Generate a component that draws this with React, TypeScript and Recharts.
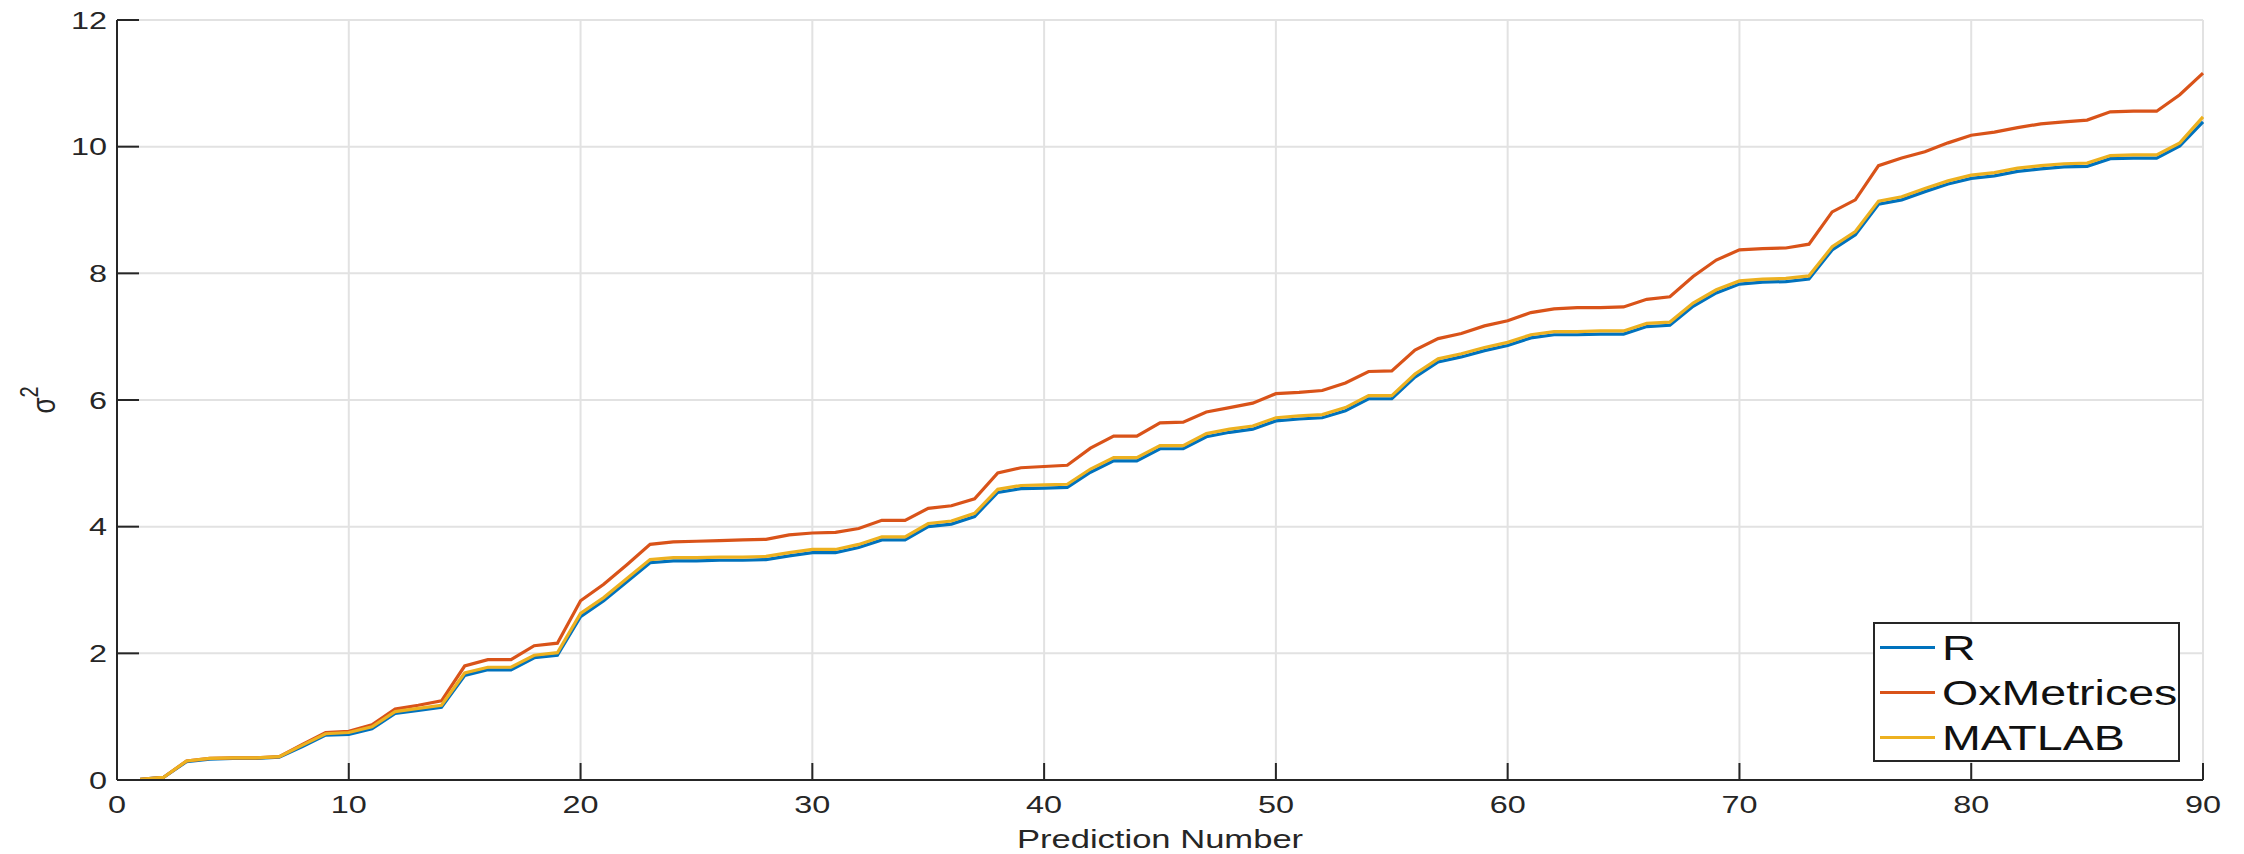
import React from 'react';
import { LineChart, Line, XAxis, YAxis, CartesianGrid, Legend } from 'recharts';

const predictionNumbers: number[] = Array.from({ length: 90 }, (_, i) => i + 1);

const rValues: number[] = [
  0.01, 0.04, 0.29, 0.33, 0.34, 0.34, 0.36, 0.53, 0.71, 0.72,
  0.81, 1.05, 1.10, 1.15, 1.65, 1.74, 1.74, 1.93, 1.97, 2.58,
  2.83, 3.13, 3.43, 3.46, 3.46, 3.47, 3.47, 3.48, 3.54, 3.59,
  3.59, 3.67, 3.79, 3.79, 4.00, 4.04, 4.16, 4.54, 4.60, 4.61,
  4.62, 4.86, 5.04, 5.04, 5.23, 5.23, 5.42, 5.49, 5.54, 5.67,
  5.70, 5.72, 5.83, 6.02, 6.02, 6.36, 6.60, 6.68, 6.78, 6.86,
  6.98, 7.03, 7.03, 7.04, 7.04, 7.16, 7.18, 7.48, 7.69, 7.83,
  7.86, 7.87, 7.91, 8.37, 8.61, 9.09, 9.16, 9.29, 9.41, 9.50,
  9.54, 9.61, 9.65, 9.68, 9.69, 9.81, 9.82, 9.82, 10.01, 10.39,
];

const oxValues: number[] = [
  0.01, 0.04, 0.30, 0.34, 0.35, 0.35, 0.37, 0.56, 0.75, 0.77,
  0.87, 1.12, 1.18, 1.25, 1.80, 1.90, 1.90, 2.12, 2.16, 2.83,
  3.09, 3.40, 3.72, 3.76, 3.77, 3.78, 3.79, 3.80, 3.87, 3.90,
  3.91, 3.97, 4.10, 4.10, 4.29, 4.33, 4.44, 4.85, 4.93, 4.95,
  4.97, 5.24, 5.43, 5.43, 5.64, 5.65, 5.81, 5.88, 5.95, 6.10,
  6.12, 6.15, 6.27, 6.45, 6.46, 6.79, 6.97, 7.05, 7.17, 7.25,
  7.38, 7.44, 7.46, 7.46, 7.47, 7.59, 7.63, 7.95, 8.21, 8.37,
  8.39, 8.40, 8.46, 8.97, 9.16, 9.70, 9.82, 9.92, 10.06, 10.18,
  10.23, 10.30, 10.36, 10.39, 10.42, 10.55, 10.56, 10.56, 10.82, 11.16,
];

const matlabValues: number[] = [
  0.01, 0.04, 0.30, 0.34, 0.35, 0.35, 0.37, 0.55, 0.73, 0.75,
  0.84, 1.08, 1.13, 1.18, 1.69, 1.78, 1.78, 1.97, 2.01, 2.63,
  2.88, 3.18, 3.48, 3.51, 3.51, 3.52, 3.52, 3.53, 3.59, 3.64,
  3.64, 3.72, 3.84, 3.84, 4.05, 4.09, 4.21, 4.59, 4.65, 4.66,
  4.67, 4.91, 5.09, 5.09, 5.28, 5.28, 5.47, 5.54, 5.59, 5.72,
  5.75, 5.77, 5.88, 6.07, 6.07, 6.41, 6.65, 6.73, 6.83, 6.91,
  7.03, 7.08, 7.08, 7.09, 7.09, 7.21, 7.23, 7.53, 7.74, 7.88,
  7.91, 7.92, 7.96, 8.42, 8.66, 9.14, 9.21, 9.34, 9.46, 9.55,
  9.59, 9.66, 9.70, 9.73, 9.74, 9.86, 9.87, 9.87, 10.06, 10.47,
];

const seriesOrder: string[] = ['R', 'OxMetrices', 'MATLAB'];
const xTicks: number[] = [0, 10, 20, 30, 40, 50, 60, 70, 80, 90];
const yTicks: number[] = [0, 2, 4, 6, 8, 10, 12];

const data = predictionNumbers.map((n, i) => ({
  n,
  R: rValues[i],
  OxMetrices: oxValues[i],
  MATLAB: matlabValues[i],
}));

const FONT = '"Liberation Sans", Arial, Helvetica, sans-serif';
const AXIS = '#262626';
const SX = 1.35;

const BottomTick = (props: any) => {
  const { x, y, payload } = props;
  return (
    <g>
      <line x1={x} x2={x} y1={y} y2={y - 17} stroke={AXIS} strokeWidth={2} />
      <text
        transform={`translate(${x},${y + 33}) scale(${SX},1)`}
        textAnchor="middle"
        fontSize={24}
        fontFamily={FONT}
        fill={AXIS}
      >
        {payload.value}
      </text>
    </g>
  );
};

const LeftTick = (props: any) => {
  const { x, y, payload } = props;
  return (
    <g>
      <line x1={x} x2={x + 22} y1={y} y2={y} stroke={AXIS} strokeWidth={2} />
      <text
        transform={`translate(${x - 10},${y + 8.5}) scale(${SX},1)`}
        textAnchor="end"
        fontSize={24}
        fontFamily={FONT}
        fill={AXIS}
      >
        {payload.value}
      </text>
    </g>
  );
};

const TopTick = (props: any) => {
  const { x, y } = props;
  return <line x1={x} x2={x} y1={y} y2={y + 17} stroke={AXIS} strokeWidth={2} />;
};

const RightTick = (props: any) => {
  const { x, y } = props;
  return <line x1={x} x2={x - 22} y1={y} y2={y} stroke={AXIS} strokeWidth={2} />;
};

const XLabel = (props: any) => {
  const vb = props.viewBox || {};
  const cx = vb.x + vb.width / 2;
  const by = vb.y + 68;
  return (
    <text
      transform={`translate(${cx},${by}) scale(1.33,1)`}
      textAnchor="middle"
      fontSize={26}
      fontFamily={FONT}
      fill={AXIS}
    >
      Prediction Number
    </text>
  );
};

const YLabel = (props: any) => {
  const vb = props.viewBox || {};
  const cy = vb.y + vb.height / 2;
  return (
    <text
      transform={`translate(55,${cy}) scale(1.3,1) rotate(-90)`}
      textAnchor="middle"
      fontSize={26}
      fontFamily={FONT}
      fill={AXIS}
    >
      σ
      <tspan fontSize={20} dy={-13}>2</tspan>
    </text>
  );
};

const LegendBox = (props: any) => {
  const payload = [...(props.payload || [])].sort(
    (a: any, b: any) => seriesOrder.indexOf(a.value) - seriesOrder.indexOf(b.value)
  );
  return (
    <div
      style={{
        boxSizing: 'border-box',
        width: 307,
        height: 140,
        border: `2px solid ${AXIS}`,
        background: '#fff',
        paddingTop: 1,
      }}
    >
      {payload.map((p: any) => (
        <div
          key={p.value}
          style={{ height: 45, display: 'flex', alignItems: 'center', position: 'relative' }}
        >
          <div style={{ position: 'absolute', left: 5, width: 55, height: 3, background: p.color }} />
          <div
            style={{
              position: 'absolute',
              left: 67,
              fontFamily: FONT,
              fontSize: 35,
              lineHeight: '45px',
              color: '#111',
              transform: 'scaleX(1.33)',
              transformOrigin: 'left center',
              whiteSpace: 'nowrap',
            }}
          >
            {p.value}
          </div>
        </div>
      ))}
    </div>
  );
};

export default function App() {
  return (
    <div style={{ position: 'absolute', left: 0, top: 0, width: 2244, height: 854, background: '#fff' }}>
      <LineChart
        width={2244}
        height={854}
        data={data}
        margin={{ top: 20, right: 41, bottom: 14, left: 0 }}
        style={{ fontFamily: FONT }}
      >
        <CartesianGrid stroke="#e2e2e2" strokeWidth={2} />
        <XAxis
          dataKey="n"
          type="number"
          domain={[0, 90]}
          ticks={xTicks}
          height={60}
          tickSize={0}
          tickMargin={0}
          tickLine={false}
          axisLine={{ stroke: AXIS, strokeWidth: 2 }}
          tick={<BottomTick />}
          interval={0}
          label={<XLabel />}
        />
        <XAxis
          xAxisId="top"
          orientation="top"
          dataKey="n"
          type="number"
          domain={[0, 90]}
          ticks={xTicks}
          height={0}
          tickSize={0}
          tickMargin={0}
          tickLine={false}
          axisLine={{ stroke: AXIS, strokeWidth: 2 }}
          tick={<TopTick />}
          interval={0}
        />
        <YAxis
          type="number"
          domain={[0, 12]}
          ticks={yTicks}
          width={117}
          tickSize={0}
          tickMargin={0}
          tickLine={false}
          axisLine={{ stroke: AXIS, strokeWidth: 2 }}
          tick={<LeftTick />}
          interval={0}
          label={<YLabel />}
        />
        <YAxis
          yAxisId="right"
          orientation="right"
          type="number"
          domain={[0, 12]}
          ticks={yTicks}
          width={0}
          tickSize={0}
          tickMargin={0}
          tickLine={false}
          axisLine={{ stroke: AXIS, strokeWidth: 2 }}
          tick={<RightTick />}
          interval={0}
        />
        <Line dataKey="R" name="R" stroke="#0072BD" strokeWidth={3.2} dot={false} isAnimationActive={false} />
        <Line dataKey="OxMetrices" name="OxMetrices" stroke="#D95319" strokeWidth={3.2} dot={false} isAnimationActive={false} />
        <Line dataKey="MATLAB" name="MATLAB" stroke="#EDB120" strokeWidth={3.2} dot={false} isAnimationActive={false} />
        <Legend
          layout="vertical"
          align="center"
          verticalAlign="middle"
          content={<LegendBox />}
          wrapperStyle={{ left: 1873, top: 622, width: 307, height: 140, right: 'auto', bottom: 'auto' }}
        />
      </LineChart>
    </div>
  );
}
